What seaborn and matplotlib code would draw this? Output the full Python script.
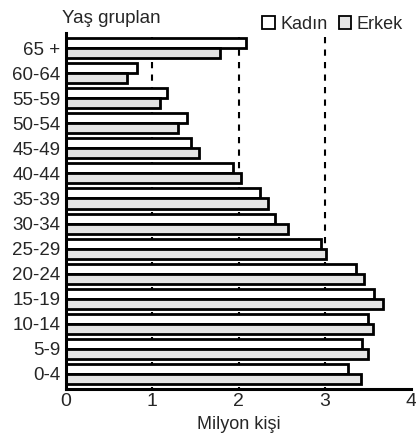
import pandas as pd
import seaborn as sns
import matplotlib.pyplot as plt
from matplotlib.patches import Patch

sns.set_style("ticks")
plt.rcParams['font.family'] = ['Liberation Sans', 'DejaVu Sans']

age_groups = ["65 +", "60-64", "55-59", "50-54", "45-49", "40-44", "35-39",
              "30-34", "25-29", "20-24", "15-19", "10-14", "5-9", "0-4"]
kadin = [2.09, 0.82, 1.17, 1.40, 1.45, 1.94, 2.25, 2.42, 2.96, 3.36, 3.57, 3.50, 3.43, 3.27]
erkek = [1.79, 0.71, 1.09, 1.30, 1.54, 2.03, 2.34, 2.57, 3.01, 3.45, 3.67, 3.56, 3.50, 3.42]
x_ticks = [0, 1, 2, 3, 4]

df = pd.DataFrame({
    "grup": age_groups * 2,
    "cinsiyet": ["Kadın"] * len(age_groups) + ["Erkek"] * len(age_groups),
    "deger": kadin + erkek,
})

fig = plt.figure(figsize=(4.16, 4.41), dpi=100)
ax = fig.add_axes([0.159, 0.118, 0.829, 0.807])

# dashed reference lines behind the bars
ax.vlines([1, 2, 3], -0.45, 13.6, colors="black", linestyles=(0, (3, 3)), linewidth=1.5, zorder=0)

sns.barplot(data=df, y="grup", x="deger", hue="cinsiyet", order=age_groups,
            hue_order=["Kadın", "Erkek"], palette=["white", "#e4e4e4"],
            orient="h", width=0.8, edgecolor="black", linewidth=2.0,
            legend=False, ax=ax, zorder=2)

ax.set_xlim(0, 4)
ax.set_ylim(13.6, -0.6)
ax.set_xticks(x_ticks)
ax.set_xticklabels([str(t) for t in x_ticks], fontsize=14)
ax.tick_params(axis="y", length=0, labelsize=13.5, pad=4)
ax.tick_params(axis="x", length=0, pad=3)
ax.set_ylabel("")
ax.set_xlabel("Milyon kişi", fontsize=13, labelpad=4)
sns.despine(ax=ax)
for s in ["left", "bottom"]:
    ax.spines[s].set_linewidth(2.2)
    ax.spines[s].set_color("black")

fig.text(0.148, 0.957, "Yaş gruplan", fontsize=13.5, ha="left", va="center")

handles = [Patch(facecolor="white", edgecolor="black", linewidth=1.3),
           Patch(facecolor="#e4e4e4", edgecolor="black", linewidth=1.3)]
fig.legend(handles, ["Kadın", "Erkek"], loc="center right", bbox_to_anchor=(0.99, 0.945),
           ncol=2, frameon=False, fontsize=13, handlelength=0.7, handleheight=0.7,
           handletextpad=0.3, columnspacing=0.6, borderpad=0)

fig.savefig("out.png", dpi=100)
